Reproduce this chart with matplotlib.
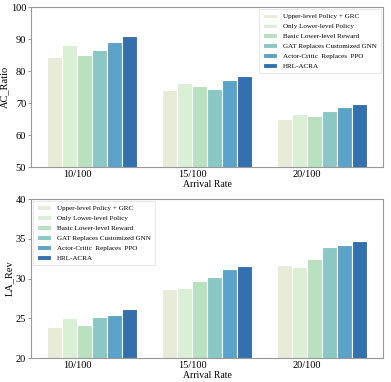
import matplotlib
matplotlib.use("Agg")
import matplotlib.pyplot as plt
import numpy as np

plt.rcParams['font.family'] = ['Liberation Serif', 'DejaVu Serif']

categories = ["10/100", "15/100", "20/100"]
methods = ["Upper-level Policy + GRC", "Only Lower-level Policy", "Basic Lower-level Reward",
           "GAT Replaces Customized GNN", "Actor-Critic  Replaces  PPO", "HRL-ACRA"]
colors = ["#e9ebd9", "#dbefd5", "#b9e0bf", "#8ac7c5", "#5ca3c9", "#3470ae"]

ac_ratio = [
    [84.4, 74.0, 65.2],
    [88.3, 76.4, 66.5],
    [85.1, 75.4, 66.0],
    [86.7, 74.4, 67.5],
    [89.3, 77.2, 68.8],
    [91.1, 78.6, 69.7],
]
la_rev = [
    [23.85, 28.7, 31.7],
    [25.0, 28.8, 31.4],
    [24.1, 29.7, 32.4],
    [25.15, 30.2, 33.95],
    [25.35, 31.2, 34.2],
    [26.2, 31.55, 34.7],
]

fig = plt.figure(figsize=(3.91, 3.82), dpi=100)
ax1 = fig.add_axes([0.0793, 0.5628, 0.9002, 0.4176])
ax2 = fig.add_axes([0.0793, 0.0628, 0.9002, 0.4162])

x = np.arange(len(categories))
w = 0.13

def draw(ax, data, ylim, yticks, ylabel, legend_loc):
    for i, (m, c) in enumerate(zip(methods, colors)):
        ax.bar(x + (i - 2.5) * w, data[i], width=w, color=c, edgecolor='white',
               linewidth=0.8, label=m)
    ax.set_xlim(-0.53, 2.53)
    ax.set_ylim(*ylim)
    ax.set_yticks(yticks)
    ax.set_xticks(x - w)
    ax.set_xticklabels(categories, fontsize=7.5)
    ax.tick_params(axis='x', length=0, pad=2)
    ax.tick_params(axis='y', labelsize=7.5, length=2.5, width=0.6, color='#888888', pad=1)
    for s in ax.spines.values():
        s.set_color('#999999')
        s.set_linewidth(0.8)
    ax.set_ylabel(ylabel, fontsize=7.5, labelpad=1)
    ax.set_xlabel("Arrival Rate", fontsize=7, labelpad=1)
    anchor = (0.0, 1.0) if legend_loc == 'upper left' else (1.0, 1.0)
    leg = ax.legend(loc=legend_loc, fontsize=5.1, frameon=True, fancybox=False,
                    handlelength=2.0, handleheight=0.6, labelspacing=0.6,
                    borderpad=0.6, handletextpad=0.8, borderaxespad=0.25,
                    bbox_to_anchor=anchor)
    leg.get_frame().set_edgecolor('#dddddd')
    leg.get_frame().set_linewidth(0.6)

draw(ax1, ac_ratio, (50, 100), [50, 60, 70, 80, 90, 100], "AC_Ratio", 'upper right')
draw(ax2, la_rev, (20, 40), [20, 25, 30, 35, 40], "LA_Rev", 'upper left')

fig.savefig("out.png", dpi=100)
